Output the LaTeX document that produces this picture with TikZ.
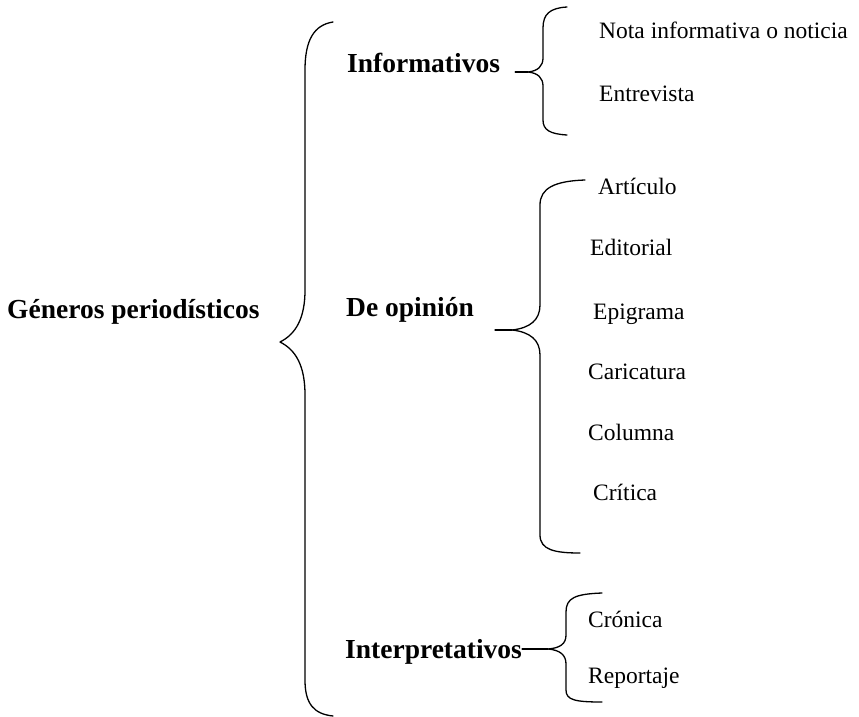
\documentclass[tikz,border=0pt]{standalone}
\usepackage{fontspec}
\setmainfont{Liberation Serif}
\begin{document}
\begin{tikzpicture}[x=1pt,y=-1pt,
  head/.style={font=\fontsize{27.5}{30}\selectfont\bfseries, inner sep=0pt, anchor=base west},
  item/.style={font=\fontsize{23.5}{26}\selectfont, inner sep=0pt, anchor=base west},
  bracep/.style={line width=1.3pt, line cap=round, line join=round}]
\useasboundingbox (0,0) rectangle (859,717);
% headings
\node[head] (gen) at (7,318) {Géneros periodísticos};
\node[head] (inf) at (347,72) {Informativos};
\node[head] (op) at (346,316) {De opinión};
\node[head] (int) at (345,658) {Interpretativos};
% items
\node[item] (nota) at (599,39) {Nota informativa o noticia};
\node[item] (entre) at (599,101) {Entrevista};
\node[item] (art) at (598,194) {Artículo};
\node[item] (edi) at (590,255) {Editorial};
\node[item] (epi) at (593,319) {Epigrama};
\node[item] (cari) at (588,379) {Caricatura};
\node[item] (colu) at (588,440) {Columna};
\node[item] (crit) at (593,500) {Crítica};
\node[item] (cron) at (588,627) {Crónica};
\node[item] (repo) at (588,683) {Reportaje};
% brace tips
\coordinate (tipG) at (280,342);
\coordinate (tipI) at (528,72);
\coordinate (tipO) at (512,330);
\coordinate (tipP) at (548,649);
% main brace
\draw[bracep] (333,22) .. controls (314,25) and (305,40) .. (305,70) -- (305,290)
  .. controls (305,318) and (296,334) .. (tipG)
  .. controls (296,350) and (305,366) .. (305,395) -- (305,680)
  .. controls (305,704) and (314,714) .. (333,716);
% informativos brace
\draw[bracep] (567,7) .. controls (550,8) and (543,14) .. (543,28) -- (543,58)
  .. controls (543,66) and (538,71) .. (tipI)
  .. controls (538,73) and (543,78) .. (543,86) -- (543,120)
  .. controls (543,130) and (550,134) .. (567,135);
\draw[bracep] (inf.base east) ++(15,0) -- (tipI);
% opinion brace
\draw[bracep] (585,180) .. controls (555,181) and (540,188) .. (540,205) -- (540,305)
  .. controls (540,320) and (530,328) .. (tipO)
  .. controls (530,332) and (540,340) .. (540,355) -- (540,535)
  .. controls (540,550) and (555,553) .. (580,553);
\draw[bracep] (tipO) -- ++(-17,0);
% interpretativos brace
\draw[bracep] (602,593) .. controls (575,594) and (566,598) .. (566,612) -- (566,635)
  .. controls (566,644) and (560,648) .. (tipP)
  .. controls (560,650) and (566,655) .. (566,664) -- (566,690)
  .. controls (566,700) and (575,702) .. (602,702);
\draw[bracep] (tipP) -- (int.base east |- tipP);
\end{tikzpicture}
\end{document}
